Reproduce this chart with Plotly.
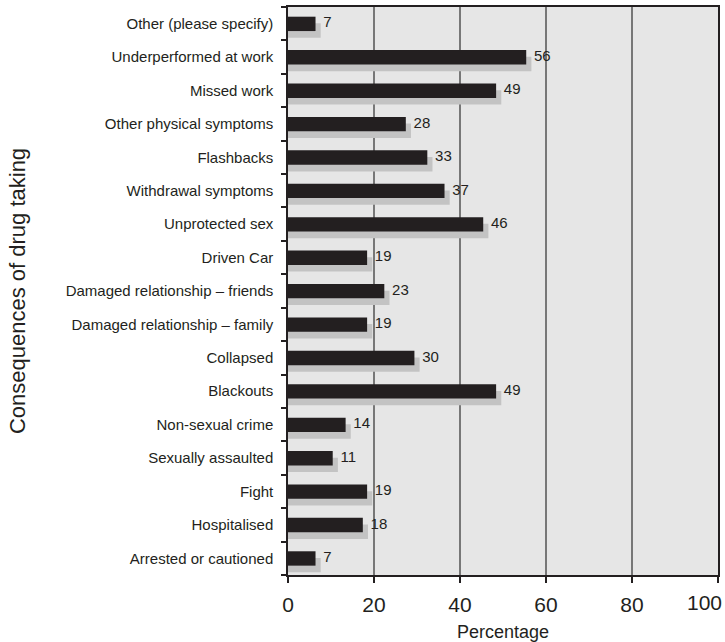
import plotly.graph_objects as go

# Categories listed top to bottom as in the reference
categories = [
    "Other (please specify)",
    "Underperformed at work",
    "Missed work",
    "Other physical symptoms",
    "Flashbacks",
    "Withdrawal symptoms",
    "Unprotected sex",
    "Driven Car",
    "Damaged relationship \u2013 friends",
    "Damaged relationship \u2013 family",
    "Collapsed",
    "Blackouts",
    "Non-sexual crime",
    "Sexually assaulted",
    "Fight",
    "Hospitalised",
    "Arrested or cautioned",
]
percentages = [7, 56, 49, 28, 33, 37, 46, 19, 23, 19, 30, 49, 14, 11, 19, 18, 7]
x_ticks = [0, 20, 40, 60, 80, 100]

# plot bottom-to-top so the first category sits at the top
cats = categories[::-1]
vals = percentages[::-1]

DEPTH = 1.2  # 3D depth of bars in axis units (styling)
front = [v - DEPTH / 2 for v in vals]
back = [v + DEPTH / 2 for v in vals]

INK = "#231f20"
FONT = "Liberation Sans, Arial, sans-serif"

fig = go.Figure()
fig.add_trace(go.Bar(
    y=cats, x=back, orientation="h",
    width=0.43, offset=-0.42,
    marker=dict(color="#c3c3c3", line=dict(width=0)),
    hoverinfo="skip", showlegend=False,
))
fig.add_trace(go.Bar(
    y=cats, x=front, orientation="h",
    width=0.43, offset=-0.22,
    marker=dict(color=INK, line=dict(width=0)),
    showlegend=False,
))
fig.add_trace(go.Scatter(
    y=cats, x=[b + 0.6 for b in back], mode="text",
    text=[str(v) for v in vals], textposition="middle right",
    textfont=dict(size=15, color=INK, family=FONT),
    hoverinfo="skip", showlegend=False, cliponaxis=False,
))

# last tick label is right-aligned so it stays inside the page, as in the reference
tick_text = [str(t) for t in x_ticks[:-1]] + [""]

fig.update_layout(
    width=725, height=642,
    margin=dict(l=288, r=7, t=7, b=67),
    paper_bgcolor="white",
    plot_bgcolor="#e6e6e6",
    barmode="overlay",
    font=dict(family=FONT, color=INK),
    xaxis=dict(
        range=[0, 100], tickvals=x_ticks, ticktext=tick_text,
        ticks="outside", ticklen=6,
        tickcolor=INK, tickwidth=1.5, ticklabelstandoff=4,
        tickfont=dict(size=21, color=INK),
        showgrid=True, gridcolor="#777777", gridwidth=1.5,
        showline=True, linecolor=INK, linewidth=1.5, mirror=True,
        zeroline=False, automargin=False,
        title=dict(text="Percentage", font=dict(size=18, color=INK), standoff=12),
    ),
    yaxis=dict(
        categoryorder="array", categoryarray=cats,
        ticks="outside", tickson="boundaries", ticklen=5,
        tickcolor=INK, tickwidth=1.5,
        tickfont=dict(size=15, color=INK), ticklabelstandoff=10,
        showgrid=False, showline=True, linecolor=INK, linewidth=1.5,
        mirror=True, zeroline=False, automargin=False,
        range=[-0.5, len(cats) - 0.5],
        title=dict(text="Consequences of drug taking",
                   font=dict(size=22, color=INK), standoff=34),
    ),
    annotations=[dict(
        x=x_ticks[-1], xref="x", y=0, yref="paper",
        text=str(x_ticks[-1]), showarrow=False,
        xanchor="right", yanchor="top", xshift=6, yshift=-14,
        font=dict(size=21, color=INK, family=FONT),
    )],
)

fig.write_html("out.html")
